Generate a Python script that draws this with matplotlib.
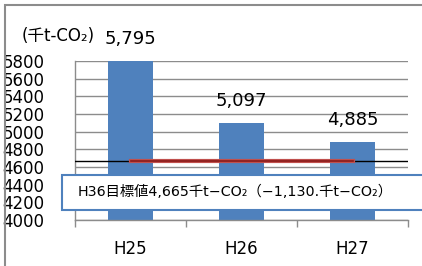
import matplotlib
matplotlib.use("Agg")
import matplotlib.pyplot as plt
from matplotlib.patches import Rectangle

plt.rcParams['font.family'] = ['DejaVu Sans', 'Noto Sans CJK JP']

categories = ["H25", "H26", "H27"]
values = [5795, 5097, 4885]
value_labels = ["5,795", "5,097", "4,885"]
target = 4665
yticks = [4000, 4200, 4400, 4600, 4800, 5000, 5200, 5400, 5600, 5800]
unit_label = "(千t-CO₂)"
box_text = "H36目標値4,665千t−CO₂（−1,130.千t−CO₂）"

W, H = 422, 266
fig = plt.figure(figsize=(W / 100, H / 100), dpi=100)
fig.patch.set_facecolor("white")

# outer frame
fig.patches.append(Rectangle((5 / W, -0.1), 1.2, 1 - 5 / H + 0.1, transform=fig.transFigure,
                             fill=False, edgecolor="#8c8c8c", linewidth=1.5, zorder=0))

ax = fig.add_axes([75 / W, 1 - 220 / H, (408 - 75) / W, (220 - 61) / H])
x = list(range(len(categories)))
ax.bar(x, values, width=0.4, color="#4F81BD", zorder=2)
ax.set_xlim(-0.5, 2.5)
ax.set_ylim(4000, 5800)
ax.set_yticks(yticks)
ax.set_yticklabels([str(t) for t in yticks], fontsize=12)
ax.tick_params(axis='y', length=0, pad=22)
ax.yaxis.grid(True, color="#8c8c8c", linewidth=1, zorder=0)
ax.set_axisbelow(True)
ax.set_xticks([-0.5, 0.5, 1.5, 2.5])
ax.set_xticklabels([])
ax.tick_params(axis='x', direction='out', length=5, color="#8c8c8c", width=1)
for i, c in enumerate(categories):
    ax.text(i, -0.18, c, transform=ax.get_xaxis_transform(), ha='center', va='center', fontsize=12)
for s in ['top', 'right']:
    ax.spines[s].set_visible(False)
for s in ['left', 'bottom']:
    ax.spines[s].set_color("#8c8c8c")
    ax.spines[s].set_linewidth(1)

# target lines
ax.axhline(target, color="black", linewidth=1, zorder=3)
ax.plot([0, 2], [target, target], color="#C0504D", linewidth=3, zorder=4)
ax.plot([0, 2], [target, target], color="#8B1A1A", linewidth=1.2, zorder=5)

# data labels
for i, (v, lab) in enumerate(zip(values, value_labels)):
    ax.annotate(lab, (i, v), xytext=(0, 16), textcoords='offset points',
                ha='center', va='center', fontsize=13)

# unit label
fig.text(22 / W, 1 - 36 / H, unit_label, fontsize=12, ha='left', va='center')

# target text box
fig.patches.append(Rectangle((62 / W, 1 - 210 / H), 1.0, 35 / H, transform=fig.transFigure,
                             facecolor="white", edgecolor="#4F81BD", linewidth=1.5, zorder=10))
fig.text(78 / W, 1 - 192 / H, box_text, fontsize=10.3, ha='left', va='center', zorder=11)

fig.savefig("out.png", dpi=100)
